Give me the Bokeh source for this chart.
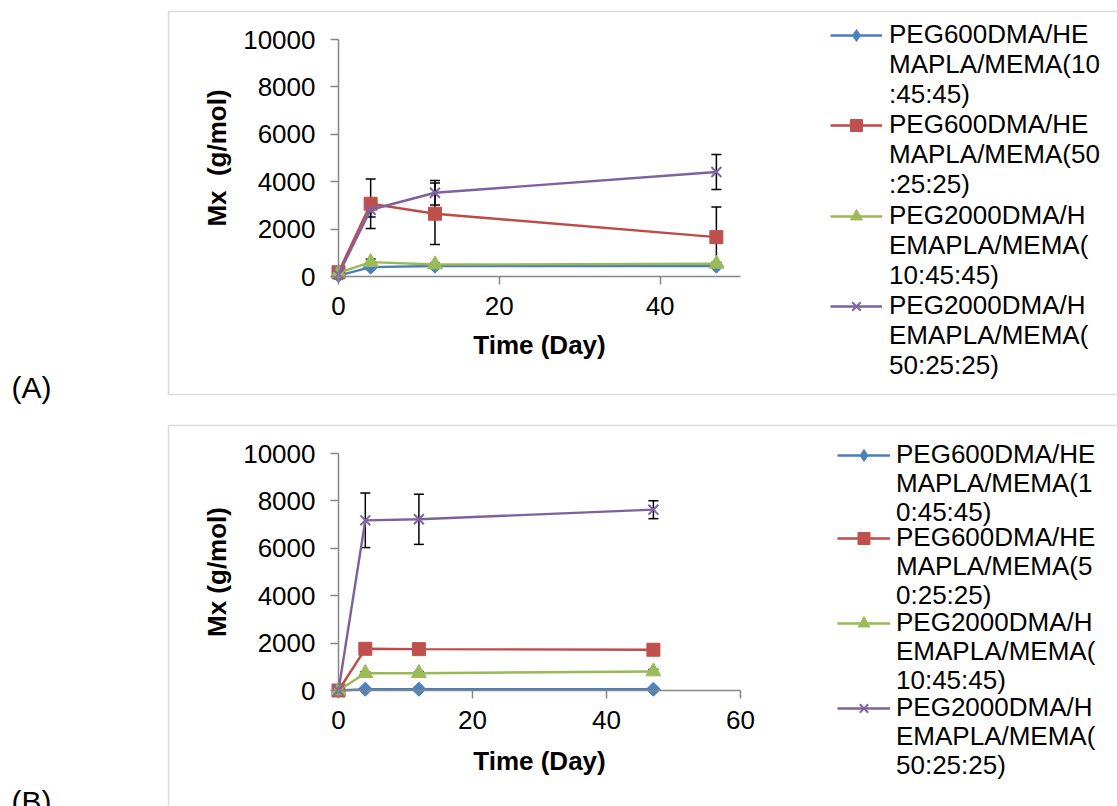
import math

from bokeh.embed import file_html
from bokeh.layouts import column
from bokeh.models import (BoxAnnotation, ColumnDataSource, FixedTicker, Label,
                          Legend, LegendItem, Range1d, TeeHead, Whisker)
from bokeh.plotting import figure
from bokeh.resources import INLINE

# ---------------------------------------------------------------- data
days = [0, 4, 12, 47]

# panel (A): crosslink molecular weight Mx (g/mol)
a_peg600_10 = [40, 395, 440, 440]
a_peg600_50 = [180, 3070, 2650, 1660]
a_peg2000_10 = [150, 605, 505, 535]
a_peg2000_50 = [85, 2815, 3535, 4410]
a_err_peg600_10 = [0, 40, 40, 40]
a_err_peg600_50 = [0, 1040, 1300, 1270]
a_err_peg2000_10 = [0, 130, 60, 60]
a_err_peg2000_50 = [0, 300, 520, 740]

# panel (B)
b_peg600_10 = [0, 55, 55, 55]
b_peg600_50 = [0, 1760, 1745, 1720]
b_peg2000_10 = [0, 730, 730, 800]
b_peg2000_50 = [0, 7180, 7225, 7630]
b_err_peg600_10 = [0, 20, 20, 20]
b_err_peg600_50 = [0, 40, 40, 40]
b_err_peg2000_10 = [0, 60, 60, 90]
b_err_peg2000_50 = [0, 1150, 1060, 380]

y_max = 10000
y_ticks = [0, 2000, 4000, 6000, 8000, 10000]
a_x_max = 50
a_x_ticks = [0, 20, 40]
b_x_max = 60
b_x_ticks = [0, 20, 40, 60]

a_legend = [
    ["PEG600DMA/HE", "MAPLA/MEMA(10", ":45:45)"],
    ["PEG600DMA/HE", "MAPLA/MEMA(50", ":25:25)"],
    ["PEG2000DMA/H", "EMAPLA/MEMA(", "10:45:45)"],
    ["PEG2000DMA/H", "EMAPLA/MEMA(", "50:25:25)"],
]
b_legend = [
    ["PEG600DMA/HE", "MAPLA/MEMA(1", "0:45:45)"],
    ["PEG600DMA/HE", "MAPLA/MEMA(5", "0:25:25)"],
    ["PEG2000DMA/H", "EMAPLA/MEMA(", "10:45:45)"],
    ["PEG2000DMA/H", "EMAPLA/MEMA(", "50:25:25)"],
]

# ---------------------------------------------------------------- styles
W = 1117
FONT = "Liberation Sans"
AXIS_GREY = "#868686"
KEY_H = 30
STYLES = [
    dict(line="#4A7EBB", fill="#4F81BD", marker="square", size=10, angle=math.pi / 4,
         key_marker="diamond"),
    dict(line="#BE4B48", fill="#C0504D", marker="square", size=13, angle=0.0,
         key_marker="square"),
    dict(line="#98B954", fill="#9BBB59", marker="triangle", size=15, angle=0.0,
         key_marker="triangle"),
    dict(line="#7D60A0", fill="#8064A2", marker="x", size=14, angle=0.0,
         key_marker="x"),
]


def draw_series(p, y, err, st):
    src = ColumnDataSource(dict(x=days, y=y))
    ln = p.line("x", "y", source=src, line_color=st["line"], line_width=2.4)
    if st["marker"] == "x":
        mk = p.scatter("x", "y", source=src, marker="x", size=st["size"],
                       line_color=st["fill"], line_width=2)
    else:
        mk = p.scatter("x", "y", source=src, marker=st["marker"], size=st["size"],
                       angle=st["angle"], fill_color=st["fill"], line_color=st["fill"])
    if st["key_marker"] != st["marker"]:
        # legend key marker (zero size in the plot, sized by the legend box)
        mk = p.scatter("x", "y", source=src, marker=st["key_marker"], size=0,
                       fill_color=st["fill"], line_color=st["fill"])
    keep = [i for i, e in enumerate(err) if e > 0]
    esrc = ColumnDataSource(dict(
        x=[days[i] for i in keep],
        upper=[y[i] + err[i] for i in keep],
        lower=[y[i] - err[i] for i in keep],
    ))
    head = dict(size=10, line_color="black", line_width=1.5)
    p.add_layout(Whisker(source=esrc, base="x", upper="upper", lower="lower",
                         dimension="height", line_color="black", line_width=1.5,
                         level="underlay",
                         upper_head=TeeHead(**head), lower_head=TeeHead(**head)))
    return [ln, mk]


def add_key(p, height, left, y_center, text, renderers, glyph_w, standoff):
    """One legend row, centred on canvas row y_center."""
    leg = Legend(items=[LegendItem(label=text, renderers=renderers)],
                 location=(left, round(height - y_center - KEY_H / 2)),
                 padding=0, margin=0, spacing=0,
                 glyph_width=glyph_w, glyph_height=KEY_H, label_height=KEY_H,
                 label_standoff=standoff, label_text_font=FONT,
                 label_text_font_size="26px", label_text_color="black",
                 border_line_alpha=0, background_fill_alpha=0)
    p.add_layout(leg)


def make_panel(height, x_max, x_ticks, px_x0, px_xmax, px_y0, px_ytop,
               series, errors, y_title, legend_lines, legend_left, entry_rows,
               line_pitch, glyph_w, standoff, title_standoff, box, tag, tag_y):
    # the plotting frame fills the whole canvas; the axes sit at x=0 / y=0
    sx = x_max / (px_xmax - px_x0)
    sy = y_max / (px_y0 - px_ytop)
    x_range = Range1d(-px_x0 * sx, (W - px_x0) * sx)
    y_range = Range1d(-(height - px_y0) * sy, px_y0 * sy)

    p = figure(width=W, height=height, x_range=x_range, y_range=y_range,
               output_backend="svg", toolbar_location=None,
               min_border=0, outline_line_color=None,
               background_fill_color="white", border_fill_color="white")
    p.grid.visible = False

    for ax in (p.xaxis[0], p.yaxis[0]):
        ax.axis_line_color = AXIS_GREY
        ax.axis_line_width = 1.5
        ax.major_tick_line_color = AXIS_GREY
        ax.major_tick_line_width = 1.5
        ax.major_tick_in = 0
        ax.major_tick_out = 8
        ax.minor_tick_line_color = None
        ax.major_label_text_font = FONT
        ax.major_label_text_font_size = "26px"
        ax.major_label_text_color = "black"
        ax.axis_label_text_font = FONT
        ax.axis_label_text_font_size = "26px"
        ax.axis_label_text_font_style = "bold"
        ax.axis_label_text_color = "black"

    p.xaxis.ticker = FixedTicker(ticks=x_ticks)
    p.yaxis.ticker = FixedTicker(ticks=y_ticks)
    p.xaxis.bounds = (0, x_max)
    p.yaxis.bounds = (0, y_max)
    p.xaxis.fixed_location = 0
    p.yaxis.fixed_location = 0
    p.xaxis.axis_label = "Time (Day)"
    p.yaxis.axis_label = y_title
    p.xaxis.major_label_standoff = 12
    p.yaxis.major_label_standoff = 15
    p.xaxis.axis_label_standoff = title_standoff
    p.yaxis.axis_label_standoff = 8

    sets = [draw_series(p, y, e, st) for y, e, st in zip(series, errors, STYLES)]

    # legend: the key glyph sits on the first row of each wrapped entry
    blank = p.scatter(x=[], y=[], marker="circle", size=0, fill_alpha=0, line_alpha=0)
    for lines, rs, row0 in zip(legend_lines, sets, entry_rows):
        for j, t in enumerate(lines):
            add_key(p, height, legend_left, row0 + j * line_pitch, t,
                    rs if j == 0 else [blank], glyph_w, standoff)

    left, top, right, bottom = box
    p.add_layout(BoxAnnotation(left=left, right=right, top=top, bottom=bottom,
                               left_units="canvas", right_units="canvas",
                               top_units="canvas", bottom_units="canvas",
                               fill_color=None, fill_alpha=0,
                               line_color="#8c8c8c", line_width=1.5))
    p.add_layout(Label(x=11, y=tag_y, x_units="canvas", y_units="canvas", text=tag,
                       text_font=FONT, text_font_size="30px", text_color="black",
                       text_baseline="alphabetic"))
    return p


pa = make_panel(410, a_x_max, a_x_ticks, 338, 740, 276, 39,
                [a_peg600_10, a_peg600_50, a_peg2000_10, a_peg2000_50],
                [a_err_peg600_10, a_err_peg600_50, a_err_peg2000_10, a_err_peg2000_50],
                "Mx\u00a0 (g/mol)", a_legend, 830, [35, 125, 216, 306], 30,
                52, 7, 12, (168, 11, 1140, 394), "(A)", 387)

pb = make_panel(396, b_x_max, b_x_ticks, 338, 740, 280, 43,
                [b_peg600_10, b_peg600_50, b_peg2000_10, b_peg2000_50],
                [b_err_peg600_10, b_err_peg600_50, b_err_peg2000_10, b_err_peg2000_50],
                "Mx (g/mol)", b_legend, 837, [45, 128, 213, 298], 29,
                53, 6, 14, (168, 15, 1140, 420), "(B)", 391)

layout = column(pa, pb, spacing=0)
open("out.html", "w").write(file_html(layout, INLINE))
